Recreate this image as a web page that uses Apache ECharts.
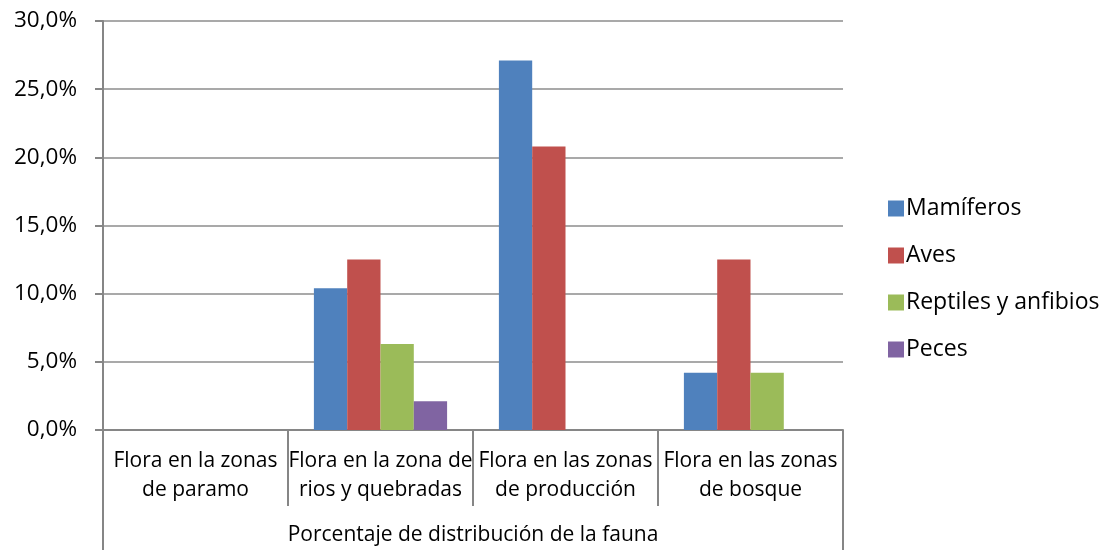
<!DOCTYPE html>
<html>
<head>
<meta charset="utf-8">
<script src="https://cdn.jsdelivr.net/npm/echarts@6/dist/echarts.min.js"></script>
<style>
  html, body { margin: 0; padding: 0; background: #fff; }
  #chart { width: 1104px; height: 550px; }
</style>
</head>
<body>
<div id="chart"></div>
<script>
var categories = [
  "Flora en la zonas\nde paramo",
  "Flora en la zona de\nrios y quebradas",
  "Flora en las zonas\nde producción",
  "Flora en las zonas\nde bosque"
];
var groupLabel = ["Porcentaje de distribución de la fauna"];
var mamiferos = [0, 10.4, 27.1, 4.2];
var aves = [0, 12.5, 20.8, 12.5];
var reptiles = [0, 6.3, 0, 4.2];
var peces = [0, 2.1, 0, 0];

var font = "Open Sans";
var axisGray = "#868686";

var chartDom = document.getElementById("chart");
var myChart = echarts.init(chartDom);
var option;

function bar(name, data, color) {
  return {
    name: name,
    type: "bar",
    data: data,
    xAxisIndex: 0,
    barGap: 0,
    barCategoryGap: "28%",
    itemStyle: { color: color }
  };
}

option = {
  animation: false,
  textStyle: { fontFamily: font, color: "#000" },
  grid: { left: 103, right: 261, top: 21, bottom: 120 },
  legend: {
    orient: "vertical",
    left: 883,
    top: 192,
    itemWidth: 16,
    itemHeight: 16,
    itemGap: 24,
    icon: "rect",
    textStyle: { fontFamily: font, fontSize: 23, color: "#000", padding: [0, 0, 0, -3] },
    data: ["Mamíferos", "Aves", "Reptiles y anfibios", "Peces"]
  },
  xAxis: [
    {
      type: "category",
      data: categories,
      position: "bottom",
      axisLine: { show: true, lineStyle: { color: axisGray, width: 2 } },
      axisTick: { show: true, length: 76, lineStyle: { color: axisGray, width: 2 } },
      axisLabel: {
        margin: 17,
        fontFamily: font,
        fontSize: 21,
        lineHeight: 29,
        color: "#000",
        interval: 0
      }
    },
    {
      type: "category",
      data: groupLabel,
      position: "bottom",
      axisLine: { show: false },
      axisTick: { show: true, length: 120, lineStyle: { color: axisGray, width: 2 } },
      axisLabel: {
        margin: 91,
        fontFamily: font,
        fontSize: 21,
        lineHeight: 29,
        color: "#000"
      }
    }
  ],
  yAxis: {
    type: "value",
    min: 0,
    max: 30,
    interval: 5,
    axisLine: { show: true, lineStyle: { color: axisGray, width: 2 } },
    axisTick: { show: true, length: 8, lineStyle: { color: axisGray, width: 2 } },
    splitLine: { lineStyle: { color: "#8c8c8c", width: 1.5 } },
    axisLabel: {
      margin: 26,
      fontFamily: font,
      fontSize: 22.5,
      color: "#000",
      formatter: function (v) {
        return v.toFixed(1).replace(".", ",") + "%";
      }
    }
  },
  series: [
    bar("Mamíferos", mamiferos, "#4F81BD"),
    bar("Aves", aves, "#C0504D"),
    bar("Reptiles y anfibios", reptiles, "#9BBB59"),
    bar("Peces", peces, "#8064A2")
  ]
};

option && myChart.setOption(option);
</script>
</body>
</html>
